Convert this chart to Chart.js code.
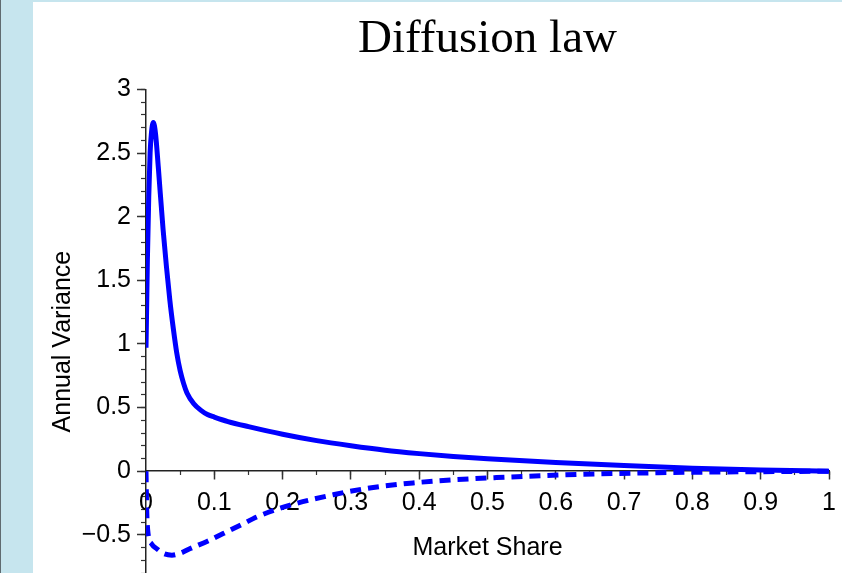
<!DOCTYPE html>
<html>
<head>
<meta charset="utf-8">
<script src="https://cdn.jsdelivr.net/npm/chart.js@4.4.1/dist/chart.umd.min.js"></script>
<style>
html, body { margin: 0; padding: 0; background: #fff; }
canvas { display: block; }
</style>
</head>
<body>
<canvas id="myChart" width="842" height="573"></canvas>
<script>
// solid curve (annual variance)
const shareSolid = [0, 0.001, 0.002, 0.004, 0.006, 0.008, 0.0107, 0.014, 0.018, 0.025, 0.035, 0.04, 0.045, 0.05, 0.055, 0.06, 0.07, 0.08, 0.09, 0.1, 0.12, 0.15, 0.2, 0.25, 0.3, 0.35, 0.4, 0.45, 0.5, 0.6, 0.7, 0.8, 0.9, 1];
const variance = [0.97, 1.3, 1.65, 2.15, 2.5, 2.66, 2.74, 2.65, 2.39, 1.9, 1.34, 1.12, 0.93, 0.79, 0.69, 0.615, 0.53, 0.48, 0.445, 0.425, 0.39, 0.35, 0.29, 0.24, 0.2, 0.165, 0.138, 0.115, 0.097, 0.068, 0.044, 0.024, 0.01, 0];

// dashed curve
const shareDashed = [0, 0.001, 0.003, 0.008, 0.016, 0.025, 0.038, 0.05, 0.064, 0.09, 0.113, 0.14, 0.162, 0.211, 0.274, 0.33, 0.391, 0.45, 0.513, 0.635, 0.75, 0.85, 1];
const varianceDashed = [0, -0.3, -0.49, -0.57, -0.61, -0.645, -0.66, -0.645, -0.61, -0.55, -0.49, -0.42, -0.36, -0.267, -0.185, -0.13, -0.092, -0.068, -0.05, -0.025, -0.012, -0.006, 0];

// tick labels
const xTickLabels = ['0', '0.1', '0.2', '0.3', '0.4', '0.5', '0.6', '0.7', '0.8', '0.9', '1'];
const yTickLabels = ['\u22120.5', '0', '0.5', '1', '1.5', '2', '2.5', '3'];

const sans = "'Liberation Sans', Arial, sans-serif";

const bgPlugin = {
    id: 'bg',
    beforeDraw(chart) {
        const c = chart.ctx;
        c.save();
        c.fillStyle = '#fff';
        c.fillRect(0, 0, chart.width, chart.height);
        c.fillStyle = '#c6e5ee';
        c.fillRect(0, 0, 33, chart.height);
        c.fillRect(0, 0, chart.width, 2);
        c.fillStyle = '#5f6b70';
        c.fillRect(0, 0, 1, chart.height);
        c.restore();
    }
};

function noPad(scale) {
    scale.paddingTop = 0;
    scale.paddingBottom = 0;
    scale.paddingLeft = 0;
    scale.paddingRight = 0;
}

const ctx = document.getElementById('myChart').getContext('2d');
const myChart = new Chart(ctx, {
    type: 'scatter',
    data: {
        datasets: [{
            label: 'variance',
            data: shareSolid.map((x, i) => ({x: x, y: variance[i]})),
            showLine: true,
            borderColor: '#0000ff',
            backgroundColor: '#0000ff',
            borderWidth: 5,
            pointRadius: 0,
            cubicInterpolationMode: 'monotone',
            xAxisID: 'x',
            yAxisID: 'y'
        },
        {
            label: 'dashed',
            data: shareDashed.map((x, i) => ({x: x, y: varianceDashed[i]})),
            showLine: true,
            borderColor: '#0000ff',
            backgroundColor: '#0000ff',
            borderWidth: 5,
            borderDash: [11, 7],
            pointRadius: 0,
            cubicInterpolationMode: 'monotone',
            xAxisID: 'x',
            yAxisID: 'y'
        }]
    },
    options: {
        responsive: false,
        animation: false,
        devicePixelRatio: 1,
        layout: { padding: { left: 0, right: 13, top: 0, bottom: 0 }, autoPadding: false },
        plugins: {
            legend: { display: false },
            tooltip: { enabled: false },
            title: {
                display: true,
                fullSize: false,
                text: 'Diffusion law',
                color: '#000',
                font: { family: "'Liberation Serif', 'Times New Roman', serif", size: 47, weight: 'normal' },
                padding: { top: 11, bottom: 22 }
            }
        },
        scales: {
            x: {
                type: 'linear',
                position: { y: 0 },
                min: 0,
                max: 1,
                afterFit: noPad,
                ticks: {
                    stepSize: 0.1,
                    autoSkip: false,
                    maxRotation: 0,
                    padding: 9,
                    color: '#000',
                    font: { family: sans, size: 25 },
                    callback: (v, i) => xTickLabels[i]
                },
                grid: { drawOnChartArea: false, tickLength: 8, tickColor: '#333', tickWidth: 1.5 },
                border: { display: true, color: '#222', width: 1.5 },
                title: { display: true, text: 'Market Share', color: '#000', font: { family: sans, size: 25 }, padding: { top: 6, bottom: 0 } }
            },
            xMinor: {
                type: 'linear',
                axis: 'x',
                position: { y: 0 },
                min: 0,
                max: 1,
                afterFit(scale) { noPad(scale); scale.height = 0; },
                ticks: { stepSize: 0.05, display: false, autoSkip: false },
                grid: { drawOnChartArea: false, tickLength: 4, tickColor: '#333', tickWidth: 1.2 },
                border: { display: false }
            },
            y: {
                type: 'linear',
                position: 'left',
                min: -0.8,
                max: 3,
                afterFit(scale) { noPad(scale); scale.width = 146; },
                ticks: {
                    stepSize: 0.5,
                    includeBounds: false,
                    padding: 6,
                    color: '#000',
                    font: { family: sans, size: 25 },
                    callback: (v, i) => yTickLabels[i]
                },
                grid: { drawOnChartArea: false, tickLength: 9, tickColor: '#333', tickWidth: 1.5 },
                border: { display: true, color: '#222', width: 1.5 },
                title: { display: true, text: 'Annual Variance   ', color: '#000', font: { family: sans, size: 25 }, padding: { top: 48, bottom: 0 } }
            },
            yMinor: {
                type: 'linear',
                axis: 'y',
                position: { x: 0 },
                min: -0.8,
                max: 3,
                afterFit(scale) { noPad(scale); scale.width = 0; },
                ticks: { stepSize: 0.1, display: false, autoSkip: false },
                grid: { drawOnChartArea: false, tickLength: 5, tickColor: '#333', tickWidth: 1.2 },
                border: { display: false }
            }
        }
    },
    plugins: [bgPlugin]
});
</script>
</body>
</html>
